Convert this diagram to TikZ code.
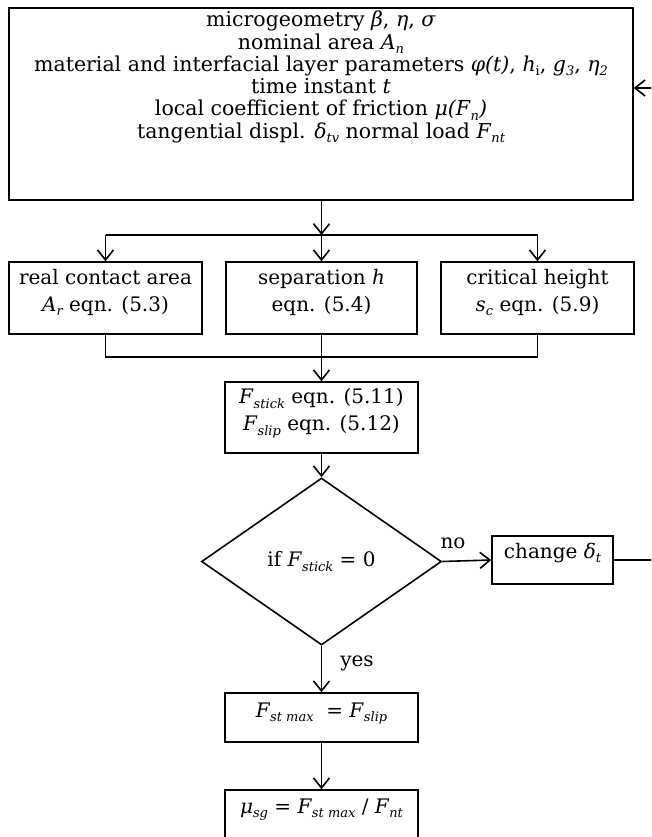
\documentclass[tikz,border=0pt]{standalone}
\usepackage{fontspec}
\setmainfont{DejaVu Serif}
\usetikzlibrary{arrows.meta,shapes.geometric}

% small italic subscript in text
\newcommand\sbs[1]{\raisebox{-0.22em}{\fontsize{13}{13}\selectfont\itshape #1}}
\newcommand\sbu[1]{\raisebox{-0.22em}{\fontsize{13}{13}\selectfont #1}}
% centred block of lines, shifted vertically without changing its size
\newcommand\txt[2]{\raisebox{#1}[\height][\depth]{\begin{tabular}{@{}c@{}}#2\end{tabular}}}

\tikzset{
  flowline/.style={line width=1.6pt},
  arr/.style={flowline,-{Straight Barb[length=10pt,width=16pt]}},
  box/.style={draw,flowline,rectangle,inner sep=0pt,align=center,
              font=\fontsize{20}{27}\selectfont},
  decision/.style={draw,flowline,diamond,inner sep=0pt,
              minimum width=240pt,minimum height=167pt,
              font=\fontsize{20}{27}\selectfont},
  lbl/.style={inner sep=0pt,font=\fontsize{20}{27}\selectfont},
}

\begin{document}
\begin{tikzpicture}[x=1pt,y=-1pt]
\clip (0,0) rectangle (651,837);
\fill[white] (0,0) rectangle (651,837);

% input parameters
\node[box,minimum width=624pt,minimum height=192pt,
      font=\fontsize{20.5}{22.2}\selectfont] (inp) at (321,104)
  {\txt{26pt}{microgeometry \textit{β}, \textit{η}, \textit{σ}\\
   nominal area \textit{A}\sbs{n}\\
   material and interfacial layer parameters \textit{φ(t)}, \textit{h}\sbu{i}, \textit{g}\sbs{3}, \textit{η}\sbs{2}\\
   time instant \textit{t}\\
   local coefficient of friction \textit{μ(F}\sbs{n}\textit{)}\\
   tangential displ. \textit{δ}\sbs{tv} normal load \textit{F}\sbs{nt}}};

% three quantities computed in parallel
\node[box,minimum width=193pt,minimum height=72pt] (area) at (105.5,298)
  {\txt{5.5pt}{real contact area\\ \textit{A}\sbs{r} eqn. (5.3)}};
\node[box,minimum width=191pt,minimum height=72pt] (sep) at (321.5,298)
  {\txt{5.5pt}{separation \textit{h}\\ eqn. (5.4)}};
\node[box,minimum width=193pt,minimum height=72pt] (crit) at (537.5,298)
  {\txt{5.5pt}{critical height\\ \textit{s}\sbs{c} eqn. (5.9)}};

% stick and slip forces
\node[box,minimum width=193pt,minimum height=71pt] (forces) at (321.5,417.5)
  {\txt{5.5pt}{\textit{F}\sbs{stick} eqn. (5.11)\\ \textit{F}\sbs{slip} eqn. (5.12)}};

% test
\node[decision] (test) at (321.5,561.5) {if \textit{F}\sbs{stick} = 0};

\node[box,minimum width=121pt,minimum height=48pt] (chg) at (552.5,560)
  {\txt{7pt}{change \textit{δ}\sbs{t}}};

\node[box,minimum width=193pt,minimum height=49pt] (fmax) at (321.5,717.5)
  {\txt{5.5pt}{\textit{F}\sbs{st max}\ \ = \textit{F}\sbs{slip}}};

\node[box,minimum width=193pt,minimum height=55pt] (mu) at (321.5,817.5)
  {\txt{9.5pt}{\textit{μ}\sbs{sg} = \textit{F}\sbs{st max} / \textit{F}\sbs{nt}}};

% branch labels
\node[lbl] (no) at (453,543) {no};
\node[lbl] (yes) at (357,663) {yes};

% connectors
\coordinate (split) at (321.5,235);
\coordinate (merge) at (321.5,357);
\coordinate (back) at (700,88);

\draw[arr] (inp.south -| split) -- (split);
\draw[flowline] (split -| area.north) -- (split -| crit.north);
\draw[arr] (split -| area.north) -- (area.north);
\draw[arr] (split) -- (sep.north);
\draw[arr] (split -| crit.north) -- (crit.north);

\draw[flowline] (area.south) -- (merge -| area.south) -- (merge -| crit.south) -- (crit.south);
\draw[arr] (sep.south) -- (forces.north);

\draw[arr] (forces.south) -- (test.north);
\draw[arr] (test.east) -- (chg.west);
\draw[arr] (chg.east) -| (back) -- (back -| inp.east);

\draw[arr] (test.south) -- (fmax.north);
\draw[arr] (fmax.south) -- (mu.north);
\end{tikzpicture}
\end{document}
